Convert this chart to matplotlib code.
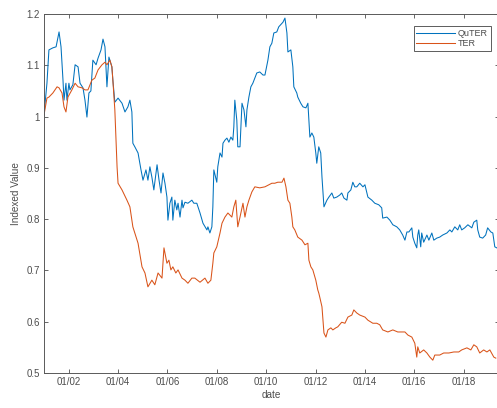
import numpy as np
import matplotlib
matplotlib.use('Agg')
import matplotlib.pyplot as plt
from matplotlib.ticker import FixedLocator, FuncFormatter

plt.rcParams['font.family'] = 'Liberation Sans'

# QuTER index (decimal year, value)
qx = [2001.00, 2001.12, 2001.20, 2001.36, 2001.49, 2001.61, 2001.69, 2001.77, 2001.81, 2001.89,
      2001.93, 2002.01, 2002.05, 2002.17, 2002.26, 2002.38, 2002.46, 2002.58, 2002.66, 2002.74,
      2002.82, 2002.90, 2002.98, 2003.11, 2003.19, 2003.31, 2003.39, 2003.47, 2003.55, 2003.63,
      2003.75, 2003.79, 2003.87, 2004.00, 2004.16, 2004.28, 2004.40, 2004.48, 2004.56, 2004.60,
      2004.68, 2004.81, 2004.93, 2005.01, 2005.13, 2005.21, 2005.29, 2005.37, 2005.45, 2005.58,
      2005.66, 2005.74, 2005.82, 2005.90, 2005.98, 2006.02, 2006.10, 2006.18, 2006.22, 2006.30,
      2006.38, 2006.43, 2006.51, 2006.59, 2006.63, 2006.71, 2006.83, 2006.99, 2007.07, 2007.19,
      2007.32, 2007.44, 2007.60, 2007.64, 2007.72, 2007.80, 2007.84, 2007.88, 2008.00, 2008.04,
      2008.13, 2008.21, 2008.25, 2008.33, 2008.41, 2008.49, 2008.57, 2008.65, 2008.69, 2008.73,
      2008.81, 2008.85, 2008.94, 2009.02, 2009.10, 2009.18, 2009.22, 2009.30, 2009.38, 2009.46,
      2009.62, 2009.74, 2009.87, 2009.95, 2010.07, 2010.15, 2010.23, 2010.31, 2010.43, 2010.51,
      2010.64, 2010.68, 2010.76, 2010.84, 2010.88, 2011.00, 2011.08, 2011.12, 2011.24, 2011.28,
      2011.40, 2011.49, 2011.61, 2011.69, 2011.73, 2011.77, 2011.85, 2011.93, 2012.01, 2012.05,
      2012.13, 2012.21, 2012.26, 2012.34, 2012.46, 2012.54, 2012.66, 2012.74, 2012.86, 2012.98,
      2013.06, 2013.15, 2013.27, 2013.31, 2013.43, 2013.51, 2013.59, 2013.67, 2013.79, 2013.92,
      2014.00, 2014.12, 2014.28, 2014.40, 2014.56, 2014.68, 2014.72, 2014.89, 2015.01, 2015.13,
      2015.29, 2015.41, 2015.53, 2015.62, 2015.70, 2015.78, 2015.90, 2015.94, 2016.02, 2016.10,
      2016.14, 2016.18, 2016.26, 2016.30, 2016.38, 2016.51, 2016.59, 2016.71, 2016.79, 2016.91,
      2017.03, 2017.15, 2017.32, 2017.44, 2017.52, 2017.64, 2017.76, 2017.84, 2017.92, 2018.04,
      2018.17, 2018.33, 2018.41, 2018.53, 2018.57, 2018.65, 2018.77, 2018.89, 2018.97, 2019.10,
      2019.18, 2019.26, 2019.34]
qy = [1.003, 1.065, 1.130, 1.134, 1.136, 1.165, 1.136, 1.071, 1.032, 1.065,
      1.032, 1.065, 1.052, 1.062, 1.101, 1.097, 1.065, 1.056, 1.032, 0.999,
      1.046, 1.050, 1.110, 1.101, 1.114, 1.130, 1.151, 1.136, 1.058, 1.116,
      1.097, 1.071, 1.028, 1.036, 1.026, 1.009, 1.019, 1.032, 1.009, 0.948,
      0.941, 0.929, 0.896, 0.876, 0.896, 0.876, 0.902, 0.882, 0.857, 0.906,
      0.876, 0.851, 0.890, 0.870, 0.843, 0.798, 0.831, 0.843, 0.798, 0.837,
      0.818, 0.831, 0.804, 0.837, 0.822, 0.833, 0.831, 0.837, 0.831, 0.831,
      0.812, 0.792, 0.779, 0.785, 0.773, 0.785, 0.824, 0.896, 0.872, 0.902,
      0.929, 0.921, 0.948, 0.954, 0.958, 0.950, 0.960, 0.954, 0.980, 1.032,
      0.993, 0.941, 0.941, 1.026, 1.013, 0.980, 1.013, 1.038, 1.058, 1.065,
      1.085, 1.087, 1.081, 1.081, 1.110, 1.136, 1.143, 1.163, 1.165, 1.175,
      1.182, 1.184, 1.192, 1.163, 1.126, 1.130, 1.097, 1.058, 1.046, 1.038,
      1.026, 1.019, 1.017, 1.026, 0.993, 0.960, 0.968, 0.960, 0.929, 0.909,
      0.941, 0.929, 0.882, 0.824, 0.837, 0.843, 0.851, 0.841, 0.843, 0.847,
      0.851, 0.841, 0.837, 0.851, 0.857, 0.872, 0.863, 0.863, 0.870, 0.863,
      0.867, 0.843, 0.837, 0.831, 0.828, 0.822, 0.802, 0.804, 0.798, 0.789,
      0.785, 0.779, 0.769, 0.759, 0.775, 0.775, 0.783, 0.765, 0.753, 0.744,
      0.769, 0.779, 0.746, 0.773, 0.755, 0.769, 0.759, 0.773, 0.759, 0.763,
      0.765, 0.769, 0.773, 0.779, 0.775, 0.785, 0.779, 0.789, 0.779, 0.783,
      0.789, 0.783, 0.794, 0.798, 0.779, 0.765, 0.763, 0.769, 0.783, 0.775,
      0.773, 0.746, 0.744]

# TER index (decimal year, value)
tx = [2001.00, 2001.12, 2001.20, 2001.36, 2001.53, 2001.61, 2001.73, 2001.81, 2001.89, 2001.97,
      2002.13, 2002.26, 2002.38, 2002.54, 2002.66, 2002.78, 2002.94, 2003.06, 2003.19, 2003.35,
      2003.47, 2003.55, 2003.67, 2003.75, 2003.79, 2003.87, 2003.96, 2004.00, 2004.16, 2004.36,
      2004.48, 2004.60, 2004.81, 2004.97, 2005.09, 2005.21, 2005.37, 2005.49, 2005.62, 2005.78,
      2005.86, 2005.98, 2006.06, 2006.14, 2006.22, 2006.34, 2006.43, 2006.59, 2006.71, 2006.83,
      2006.99, 2007.11, 2007.32, 2007.52, 2007.64, 2007.76, 2007.84, 2007.88, 2008.00, 2008.13,
      2008.21, 2008.33, 2008.45, 2008.61, 2008.69, 2008.77, 2008.85, 2008.94, 2009.06, 2009.14,
      2009.22, 2009.30, 2009.42, 2009.54, 2009.74, 2009.95, 2010.11, 2010.23, 2010.35, 2010.47,
      2010.64, 2010.72, 2010.80, 2010.88, 2010.96, 2011.04, 2011.08, 2011.16, 2011.28, 2011.45,
      2011.57, 2011.69, 2011.73, 2011.81, 2011.89, 2012.01, 2012.09, 2012.13, 2012.17, 2012.26,
      2012.30, 2012.34, 2012.42, 2012.50, 2012.62, 2012.70, 2012.82, 2012.90, 2013.06, 2013.19,
      2013.31, 2013.47, 2013.55, 2013.67, 2013.79, 2014.00, 2014.12, 2014.32, 2014.48, 2014.60,
      2014.72, 2014.93, 2015.13, 2015.33, 2015.49, 2015.62, 2015.74, 2015.90, 2016.02, 2016.10,
      2016.14, 2016.22, 2016.38, 2016.51, 2016.63, 2016.75, 2016.83, 2017.03, 2017.19, 2017.40,
      2017.60, 2017.80, 2017.92, 2018.13, 2018.29, 2018.41, 2018.53, 2018.65, 2018.81, 2018.94,
      2019.06, 2019.22, 2019.30]
ty = [1.003, 1.036, 1.038, 1.046, 1.058, 1.056, 1.046, 1.019, 1.009, 1.038,
      1.052, 1.065, 1.058, 1.056, 1.052, 1.052, 1.071, 1.075, 1.091, 1.101,
      1.106, 1.101, 1.110, 1.097, 1.071, 1.013, 0.902, 0.870, 0.857, 0.837,
      0.824, 0.785, 0.753, 0.707, 0.695, 0.668, 0.681, 0.672, 0.695, 0.685,
      0.744, 0.714, 0.720, 0.701, 0.707, 0.695, 0.701, 0.685, 0.681, 0.675,
      0.685, 0.685, 0.677, 0.685, 0.675, 0.681, 0.714, 0.734, 0.746, 0.773,
      0.792, 0.804, 0.812, 0.804, 0.824, 0.837, 0.785, 0.804, 0.831, 0.804,
      0.824, 0.837, 0.853, 0.863, 0.861, 0.863, 0.867, 0.870, 0.870, 0.872,
      0.872, 0.880, 0.863, 0.837, 0.831, 0.804, 0.785, 0.779, 0.765, 0.759,
      0.750, 0.753, 0.720, 0.707, 0.701, 0.681, 0.662, 0.656, 0.648, 0.629,
      0.603, 0.578, 0.570, 0.584, 0.588, 0.584, 0.588, 0.590, 0.599, 0.597,
      0.609, 0.613, 0.623, 0.617, 0.613, 0.609, 0.603, 0.597, 0.597, 0.594,
      0.584, 0.580, 0.584, 0.580, 0.580, 0.580, 0.574, 0.570, 0.558, 0.531,
      0.551, 0.539, 0.545, 0.539, 0.531, 0.525, 0.535, 0.535, 0.539, 0.539,
      0.541, 0.541, 0.545, 0.549, 0.545, 0.555, 0.551, 0.539, 0.545, 0.541,
      0.545, 0.531, 0.529]

xticks = [2002, 2004, 2006, 2008, 2010, 2012, 2014, 2016, 2018]
xticklabels = ['01/02', '01/04', '01/06', '01/08', '01/10', '01/12', '01/14', '01/16', '01/18']
yticks = [0.5, 0.6, 0.7, 0.8, 0.9, 1.0, 1.1, 1.2]

fig = plt.figure(figsize=(4.97, 4.08), dpi=100)
ax = fig.add_axes([0.0885, 0.0858, 0.915, 0.8799])

ax.plot(qx, qy, color='#0072BD', lw=0.75, label='QuTER')
ax.plot(tx, ty, color='#D95319', lw=0.75, label='TER')

ax.set_xlim(2001, 2019.42)
ax.set_ylim(0.5, 1.2)
ax.xaxis.set_major_locator(FixedLocator(xticks))
ax.set_xticklabels(xticklabels)
ax.yaxis.set_major_locator(FixedLocator(yticks))
ax.yaxis.set_major_formatter(FuncFormatter(lambda v, p: '%g' % round(v, 2)))

ax.tick_params(direction='in', length=3, width=0.6, labelsize=7, colors='0.3',
               top=True, right=True, pad=3)
for s in ax.spines.values():
    s.set_color('0.35')
    s.set_linewidth(0.7)

ax.set_xlabel('date', fontsize=7.2, color='0.3', labelpad=2)
ax.set_ylabel('Indexed Value', fontsize=7.2, color='0.3', labelpad=4)

leg = ax.legend(loc='upper right', fontsize=6.5, frameon=True, fancybox=False,
                handlelength=4.3, handletextpad=0.3, borderpad=0.3, labelspacing=0.1,
                bbox_to_anchor=(0.992, 0.978))
leg.get_frame().set_edgecolor('0.2')
leg.get_frame().set_linewidth(0.7)
for t in leg.get_texts():
    t.set_color('0.3')

fig.savefig('out.png', dpi=100)
